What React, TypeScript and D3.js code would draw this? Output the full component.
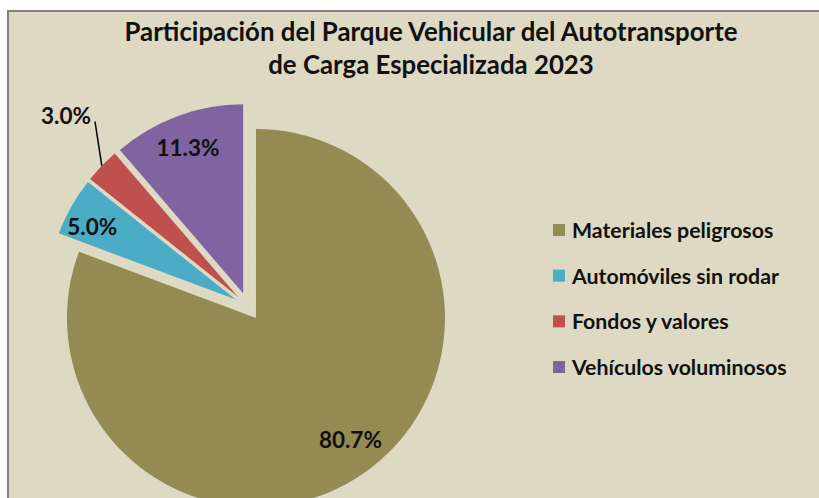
import React from "react";
import * as d3 from "d3";

// data
const categories = [
  "Materiales peligrosos",
  "Automóviles sin rodar",
  "Fondos y valores",
  "Vehículos voluminosos",
];
const shares = [80.7, 5.0, 3.0, 11.3];
const sliceColors = ["#948a54", "#4bacc6", "#c0504d", "#8064a2"];
const titleLines = [
  "Participación del Parque Vehicular del Autotransporte",
  "de Carga Especializada 2023",
];

const App = () => {
  const width = 819;
  const height = 498;
  const cx = 248;
  const cy = 306.5;
  const radius = 189;
  const explode = 14;
  const font = "Lato, 'Open Sans', sans-serif";

  const pie = d3
    .pie<number>()
    .sort(null)
    .value((d) => d)
    .startAngle(0)
    .endAngle(2 * Math.PI);
  const arcs = pie(shares);

  const arc = d3.arc<d3.PieArcDatum<number>>().innerRadius(0).outerRadius(radius);

  // explode each slice along its bisector
  const offset = (a: d3.PieArcDatum<number>, dist: number) => {
    const mid = (a.startAngle + a.endAngle) / 2;
    return [Math.sin(mid) * dist, -Math.cos(mid) * dist];
  };

  // label distance from slice apex, as fraction of radius, plus nudges
  const labelPos = [
    { r: 0.7, dx: 19, dy: 12.5 },
    { r: 0.8, dx: -12, dy: 1 },
    { r: 1.0, dx: 0, dy: 0 },
    { r: 0.825, dx: -1, dy: 0 },
  ];

  const legendX = 553;
  const legendY = d3.scalePoint<string>().domain(categories).range([230, 367]);

  return (
    <svg
      width={width}
      height={height}
      style={{ position: "absolute", left: 0, top: 0 }}
    >
      <rect x={0} y={0} width={width} height={height} fill="#ffffff" />
      <rect x={8} y={11} width={width} height={height} fill="#ddd9c3" stroke="#808080" strokeWidth={2} />

      {titleLines.map((t, i) => (
        <text
          key={i}
          x={431}
          y={41 + i * 33}
          textAnchor="middle"
          fontFamily={font}
          fontWeight="bold"
          fontSize={25.8}
          fill="#111"
        >
          {t}
        </text>
      ))}

      <g transform={`translate(${cx},${cy})`}>
        {arcs.map((a, i) => {
          const [ox, oy] = offset(a, explode);
          return (
            <path
              key={i}
              d={arc(a) || ""}
              transform={`translate(${ox},${oy})`}
              fill={sliceColors[i]}
            />
          );
        })}
        {arcs.map((a, i) => {
          const [ox, oy] = offset(a, explode);
          const mid = (a.startAngle + a.endAngle) / 2;
          if (i === 2) {
            // leader line for the small slice
            const x1 = ox + Math.sin(mid) * radius;
            const y1 = oy - Math.cos(mid) * radius;
            return (
              <g key={i}>
                <line x1={x1} y1={y1} x2={-153} y2={-185} stroke="#000" strokeWidth={1.5} />
                <text
                  x={-182}
                  y={-191}
                  textAnchor="middle"
                  dominantBaseline="central"
                  fontFamily={font}
                  fontWeight="bold"
                  fontSize={22.5}
                  fill="#111"
                >
                  {shares[i].toFixed(1)}%
                </text>
              </g>
            );
          }
          const p = labelPos[i];
          const [lx, ly] = offset(a, explode + radius * p.r);
          return (
            <text
              key={i}
              x={lx + p.dx}
              y={ly + p.dy}
              textAnchor="middle"
              dominantBaseline="central"
              fontFamily={font}
              fontWeight="bold"
              fontSize={22.5}
              fill="#111"
            >
              {shares[i].toFixed(1)}%
            </text>
          );
        })}
      </g>

      {categories.map((c, i) => (
        <g key={c} transform={`translate(${legendX},${legendY(c)})`}>
          <rect x={0} y={-6} width={12} height={12} fill={sliceColors[i]} />
          <text
            x={19}
            y={0}
            dominantBaseline="central"
            fontFamily={font}
            fontWeight="bold"
            fontSize={21.3}
            fill="#111"
          >
            {c}
          </text>
        </g>
      ))}
    </svg>
  );
};

export default App;
